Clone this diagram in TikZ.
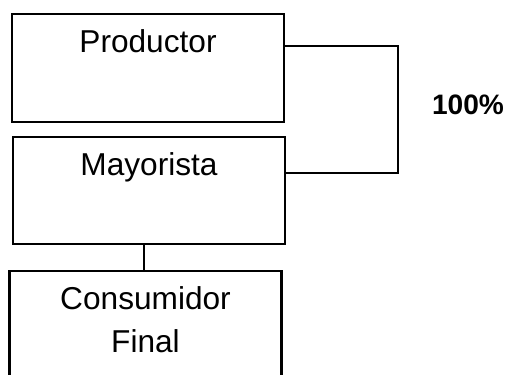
\documentclass[tikz,border=0pt]{standalone}
\usepackage{fontspec}
\setmainfont{Liberation Sans}
\usetikzlibrary{positioning,calc}
\tikzset{
  chainbox/.style={draw,line width=1.3pt,minimum width=5.44cm,minimum height=2.16cm,inner sep=0pt},
  boxtext/.style ={anchor=north,align=center,inner sep=0pt,yshift=-9.6pt,
                   font=\fontsize{18pt}{24pt}\selectfont},
  link/.style    ={line width=1.3pt},
  pcttext/.style ={font=\fontsize{16pt}{19pt}\selectfont\bfseries},
}
\begin{document}
\begin{tikzpicture}
  \useasboundingbox (0,0) rectangle (10.14,7.48);
  % boxes
  \node[chainbox,label={[boxtext]north:Productor}] (prod) at (2.96,6.12) {};
  \node[chainbox,minimum height=2.14cm,label={[boxtext]north:Mayorista}] (may) at (2.98,3.67) {};
  \node[chainbox,minimum height=2.3cm,label={[boxtext]north:Consumidor\\Final}] (cons) at (2.91,0.91) {};
  % connectors
  \draw[link] ([xshift=-1mm]may.south) -- ([xshift=-1mm]may.south |- cons.north);
  \draw[link] ([yshift=4.4mm]prod.east) -- ++(2.26,0) |- ([yshift=3.5mm]may.east);
  % share
  \node[pcttext] (pct) at (9.36,5.38) {100\%};
\end{tikzpicture}
\end{document}
